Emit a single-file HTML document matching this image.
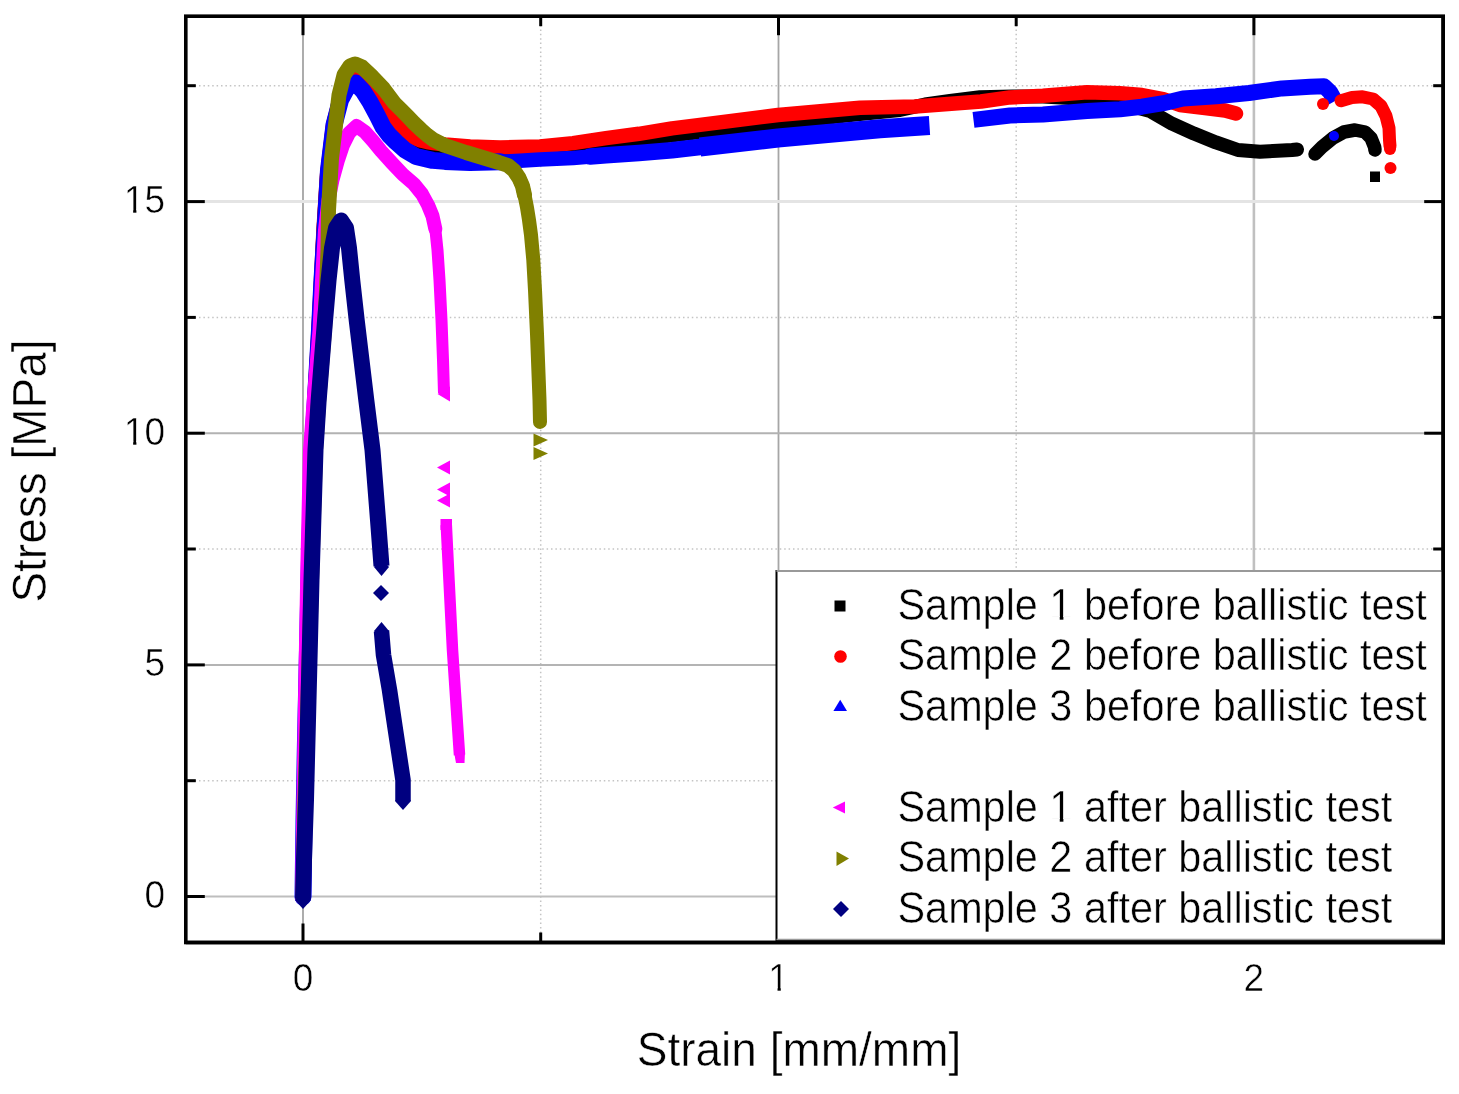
<!DOCTYPE html>
<html><head><meta charset="utf-8"><style>html,body{margin:0;padding:0;background:#fff;overflow:hidden}svg{display:block;filter:blur(0.55px)}</style></head><body>
<svg width="1459" height="1094" viewBox="0 0 1459 1094">
<rect width="1459" height="1094" fill="#fff"/>
<line x1="540.7" y1="16.2" x2="540.7" y2="942.5" stroke="#c4c4c4" stroke-width="1.5" stroke-dasharray="1.5 2.9"/>
<line x1="1016.2" y1="16.2" x2="1016.2" y2="942.5" stroke="#c4c4c4" stroke-width="1.5" stroke-dasharray="1.5 2.9"/>
<line x1="185.8" y1="780.7" x2="1443.2" y2="780.7" stroke="#c4c4c4" stroke-width="1.5" stroke-dasharray="1.5 2.9"/>
<line x1="185.8" y1="549.0" x2="1443.2" y2="549.0" stroke="#c4c4c4" stroke-width="1.5" stroke-dasharray="1.5 2.9"/>
<line x1="185.8" y1="317.4" x2="1443.2" y2="317.4" stroke="#c4c4c4" stroke-width="1.5" stroke-dasharray="1.5 2.9"/>
<line x1="185.8" y1="85.7" x2="1443.2" y2="85.7" stroke="#c4c4c4" stroke-width="1.5" stroke-dasharray="1.5 2.9"/>
<line x1="303.0" y1="16.2" x2="303.0" y2="942.5" stroke="#a4a4a4" stroke-width="1.8"/>
<line x1="778.5" y1="16.2" x2="778.5" y2="942.5" stroke="#a6a6a6" stroke-width="1.8"/>
<line x1="1253.9" y1="16.2" x2="1253.9" y2="942.5" stroke="#c0c0c0" stroke-width="2.6"/>
<line x1="185.8" y1="896.5" x2="1443.2" y2="896.5" stroke="#bebebe" stroke-width="2.2"/>
<line x1="185.8" y1="664.9" x2="1443.2" y2="664.9" stroke="#b4b4b4" stroke-width="2"/>
<line x1="185.8" y1="433.2" x2="1443.2" y2="433.2" stroke="#b2b2b2" stroke-width="2"/>
<line x1="185.8" y1="201.6" x2="1443.2" y2="201.6" stroke="#e4e4e4" stroke-width="3"/>
<polyline points="303.0,897.0 304.0,820.0 305.5,740.0 307.5,650.0 309.0,560.0 312.0,450.0 315.0,390.0 318.5,330.0 321.0,280.0 323.5,230.0 327.0,175.0 333.0,125.0 340.0,98.0 348.0,84.0 356.0,80.0 366.0,88.0 378.0,100.0 390.0,115.0 401.0,130.0 414.0,140.5 427.0,145.5 440.0,148.0 470.0,151.0 500.0,151.0 540.0,151.0 600.0,145.0 650.0,138.0 700.0,132.0 778.0,123.0 860.0,114.0 900.0,110.0 925.0,104.5 950.0,101.0 980.0,97.3 1013.0,96.5 1043.0,96.5 1087.0,99.0 1120.0,103.0 1150.0,111.0 1172.0,123.7 1194.0,133.6 1216.0,142.4 1238.0,150.0 1260.0,151.7 1292.0,150.0 1297.0,149.5" fill="none" stroke="#000000" stroke-width="14" stroke-linejoin="round" stroke-linecap="round"/>
<polyline points="303.0,897.0 304.0,820.0 305.5,740.0 307.5,650.0 309.0,560.0 312.0,450.0 315.0,390.0 318.5,330.0 321.0,280.0 323.5,230.0 327.0,175.0 333.0,125.0 340.0,98.0 348.0,82.0 356.0,77.0 362.0,78.0 370.0,82.0 378.0,93.0 385.6,106.0 394.3,121.0 401.4,128.5 407.8,133.5 414.2,138.0 420.6,140.5 427.0,142.0 433.4,143.0 445.0,144.5 470.0,146.5 500.0,147.5 540.0,146.5 573.0,143.1 606.0,138.2 639.0,133.8 672.0,128.4 700.0,124.9 778.0,115.0 860.0,107.8 915.0,106.5 948.0,104.0 981.0,101.5 1010.0,97.4 1043.0,95.8 1087.0,92.2 1120.0,93.3 1142.0,95.0 1163.0,99.0 1180.0,105.0 1205.0,108.0 1225.0,110.5 1236.0,113.5" fill="none" stroke="#ff0000" stroke-width="14.5" stroke-linejoin="round" stroke-linecap="round"/>
<polyline points="303.0,897.0 304.0,820.0 305.5,740.0 307.5,650.0 309.5,560.0 312.5,450.0 316.0,390.0 319.5,330.0 322.0,280.0 325.0,230.0 328.5,170.0 334.0,125.0 340.5,100.0 347.0,88.0 355.5,83.0 363.0,91.0 370.0,102.0 377.0,115.0 383.0,127.0 389.0,135.0 396.0,142.0 405.0,150.0 416.0,156.5 432.7,160.4 445.0,161.4 470.0,162.5 500.0,161.8" fill="none" stroke="#0000ff" stroke-width="17" stroke-linejoin="round" stroke-linecap="round"/>
<polyline points="470.0,162.5 500.0,161.8 520.0,160.7 540.0,159.6 573.0,158.0 606.0,155.2" fill="none" stroke="#0000ff" stroke-width="14.5" stroke-linejoin="round" stroke-linecap="round"/>
<polyline points="590.0,156.5 606.0,155.2 639.0,153.0 672.0,150.2 700.0,147.0" fill="none" stroke="#0000ff" stroke-width="16.5" stroke-linejoin="round" stroke-linecap="round"/>
<polyline points="700.0,147.0 778.0,138.0 880.0,128.7 929.5,125.5" fill="none" stroke="#0000ff" stroke-width="19" stroke-linejoin="round" stroke-linecap="butt"/>
<polyline points="973.5,119.9 1010.0,115.5 1043.0,114.4 1087.0,111.1 1120.0,109.2 1142.0,106.7 1163.5,103.2 1183.0,98.5 1216.0,96.3 1249.0,93.0 1282.0,88.4 1310.0,86.8 1324.0,86.3 1330.0,92.0 1335.0,101.0" fill="none" stroke="#0000ff" stroke-width="16" stroke-linejoin="round" stroke-linecap="butt"/>
<polyline points="1341.0,100.7 1352.0,97.5 1362.5,96.8 1373.0,99.0 1381.0,106.0 1386.0,116.0 1389.0,128.0 1389.5,140.0 1390.0,146.0" fill="none" stroke="#ff0000" stroke-width="13" stroke-linejoin="round" stroke-linecap="round"/>
<polyline points="1315.0,154.0 1322.0,147.0 1333.0,138.0 1344.0,132.0 1355.0,130.0 1365.0,132.0 1371.0,138.0 1374.6,147.0 1375.0,150.0" fill="none" stroke="#000000" stroke-width="13.5" stroke-linejoin="round" stroke-linecap="round"/>
<polyline points="302.0,897.0 302.5,860.0 303.5,800.0 305.0,700.0 307.5,560.0 310.0,450.0 314.5,390.0 319.5,330.0 322.0,280.0 325.0,230.0 328.5,200.0 332.5,180.0 338.0,160.0 343.0,145.0 349.0,133.0 356.5,126.0 365.0,132.0 373.0,141.0 381.0,150.9 392.0,163.0 402.9,174.5 413.9,184.0 422.0,194.0 428.0,205.0 432.5,216.0 435.3,228.8" fill="none" stroke="#ff00ff" stroke-width="14" stroke-linejoin="round" stroke-linecap="round"/>
<polyline points="432.5,216.0 435.3,228.8 437.5,250.0 439.5,280.0 441.5,320.0 443.0,360.0 444.0,393.0" fill="none" stroke="#ff00ff" stroke-width="12" stroke-linejoin="round" stroke-linecap="butt"/>
<polyline points="446.3,525.0 449.0,580.0 452.5,650.0 456.5,710.0 459.5,755.0" fill="none" stroke="#ff00ff" stroke-width="11.5" stroke-linejoin="round" stroke-linecap="butt"/>
<polyline points="303.0,897.0 305.0,800.0 308.0,700.0 311.5,580.0 315.5,450.0 318.6,401.0 324.5,330.0 326.5,290.0 328.0,250.0 328.5,210.0 331.5,158.5 336.0,121.0 339.0,95.0 344.0,75.0 350.0,66.0 355.0,64.0 362.0,67.0 372.4,76.8 383.4,88.5 394.3,103.0 401.4,110.0 407.8,116.5 414.2,123.2 420.6,129.3 427.0,135.0 433.4,139.8 439.8,143.0 445.0,145.5 452.6,148.0 466.0,152.5 499.0,162.5 508.0,165.5 514.0,170.5 519.0,178.0 522.5,186.0 524.5,195.0" fill="none" stroke="#808000" stroke-width="15" stroke-linejoin="round" stroke-linecap="round"/>
<polyline points="519.0,178.0 522.5,186.0 524.5,195.0 527.0,207.5 529.0,220.0 531.0,235.0 533.3,260.0 535.0,290.0 537.0,334.0 539.5,400.0 540.0,422.0" fill="none" stroke="#808000" stroke-width="14" stroke-linejoin="round" stroke-linecap="round"/>
<polyline points="303.0,899.0 304.0,860.0 306.0,800.0 308.5,700.0 311.5,580.0 315.5,450.0 318.6,401.0 325.0,321.0 328.5,280.5 332.0,248.0 336.0,228.0 341.0,220.5 346.0,228.0 349.0,248.0 352.3,280.5 356.8,321.0 366.4,401.0 372.5,450.0 378.0,520.0 381.5,566.0" fill="none" stroke="#000080" stroke-width="16" stroke-linejoin="round" stroke-linecap="butt"/>
<polyline points="381.5,631.0 383.5,655.0 389.5,690.0 395.0,727.0 400.0,760.0 403.0,780.0 403.0,801.0" fill="none" stroke="#000080" stroke-width="15.5" stroke-linejoin="round" stroke-linecap="butt"/>
<circle cx="1323" cy="104" r="6" fill="#ff0000"/>
<circle cx="1390" cy="149" r="6" fill="#ff0000"/>
<circle cx="1390.5" cy="168" r="6" fill="#ff0000"/>
<rect x="1370" y="171.5" width="10" height="10.5" fill="#000"/>
<circle cx="1334" cy="136" r="5" fill="#0000ff"/>
<polygon points="437.5,394.0 450.0,386.5 450.0,401.5" fill="#ff00ff"/>
<polygon points="437.0,467.6 450.0,460.6 450.0,474.6" fill="#ff00ff"/>
<polygon points="437.0,489.5 450.0,482.5 450.0,496.5" fill="#ff00ff"/>
<polygon points="437.0,500.4 450.0,493.4 450.0,507.4" fill="#ff00ff"/>
<polygon points="533.5,433.5 548.0,440.0 533.5,446.5" fill="#808000"/>
<polygon points="533.5,447.0 548.0,453.5 533.5,460.0" fill="#808000"/>
<polygon points="381.5,559.0 389.0,567.0 381.5,576.0 374.0,567.0" fill="#000080"/>
<polygon points="303.0,891.0 311.0,900.0 303.0,909.0 295.0,900.0" fill="#000080"/>
<polygon points="381.5,622.0 389.0,631.0 381.5,640.0 374.0,631.0" fill="#000080"/>
<polygon points="403.0,792.0 411.0,801.0 403.0,810.0 395.0,801.0" fill="#000080"/>
<polygon points="440.5,519.0 452.0,519.0 452.0,530.0 440.5,530.0" fill="#ff00ff"/>
<polygon points="454.0,752.0 465.0,752.0 464.5,763.0 456.0,763.0" fill="#ff00ff"/>
<polygon points="381.0,585.0 389.0,593.0 381.0,601.0 373.0,593.0" fill="#000080"/>
<rect x="185.8" y="16.2" width="1257.4" height="926.3" fill="none" stroke="#000" stroke-width="3.6"/>
<line x1="303.0" y1="16.2" x2="303.0" y2="35.2" stroke="#000" stroke-width="3"/>
<line x1="303.0" y1="942.5" x2="303.0" y2="923.5" stroke="#000" stroke-width="3"/>
<line x1="778.5" y1="16.2" x2="778.5" y2="35.2" stroke="#000" stroke-width="3"/>
<line x1="778.5" y1="942.5" x2="778.5" y2="923.5" stroke="#000" stroke-width="3"/>
<line x1="1253.9" y1="16.2" x2="1253.9" y2="35.2" stroke="#000" stroke-width="3"/>
<line x1="1253.9" y1="942.5" x2="1253.9" y2="923.5" stroke="#000" stroke-width="3"/>
<line x1="540.7" y1="16.2" x2="540.7" y2="26.2" stroke="#000" stroke-width="3"/>
<line x1="540.7" y1="942.5" x2="540.7" y2="932.5" stroke="#000" stroke-width="3"/>
<line x1="1016.2" y1="16.2" x2="1016.2" y2="26.2" stroke="#000" stroke-width="3"/>
<line x1="1016.2" y1="942.5" x2="1016.2" y2="932.5" stroke="#000" stroke-width="3"/>
<line x1="185.8" y1="896.5" x2="204.8" y2="896.5" stroke="#000" stroke-width="3"/>
<line x1="1443.2" y1="896.5" x2="1424.2" y2="896.5" stroke="#000" stroke-width="3"/>
<line x1="185.8" y1="664.9" x2="204.8" y2="664.9" stroke="#000" stroke-width="3"/>
<line x1="1443.2" y1="664.9" x2="1424.2" y2="664.9" stroke="#000" stroke-width="3"/>
<line x1="185.8" y1="433.2" x2="204.8" y2="433.2" stroke="#000" stroke-width="3"/>
<line x1="1443.2" y1="433.2" x2="1424.2" y2="433.2" stroke="#000" stroke-width="3"/>
<line x1="185.8" y1="201.6" x2="204.8" y2="201.6" stroke="#000" stroke-width="3"/>
<line x1="1443.2" y1="201.6" x2="1424.2" y2="201.6" stroke="#000" stroke-width="3"/>
<line x1="185.8" y1="780.7" x2="195.8" y2="780.7" stroke="#000" stroke-width="3"/>
<line x1="1443.2" y1="780.7" x2="1433.2" y2="780.7" stroke="#000" stroke-width="3"/>
<line x1="185.8" y1="549.0" x2="195.8" y2="549.0" stroke="#000" stroke-width="3"/>
<line x1="1443.2" y1="549.0" x2="1433.2" y2="549.0" stroke="#000" stroke-width="3"/>
<line x1="185.8" y1="317.4" x2="195.8" y2="317.4" stroke="#000" stroke-width="3"/>
<line x1="1443.2" y1="317.4" x2="1433.2" y2="317.4" stroke="#000" stroke-width="3"/>
<line x1="185.8" y1="85.7" x2="195.8" y2="85.7" stroke="#000" stroke-width="3"/>
<line x1="1443.2" y1="85.7" x2="1433.2" y2="85.7" stroke="#000" stroke-width="3"/>
<rect x="776.5" y="571" width="666.7" height="370.0" fill="#fff" stroke="#000" stroke-width="2"/>
<line x1="776.5" y1="571" x2="1443.2" y2="571" stroke="#999" stroke-width="2.2"/>
<line x1="776.5" y1="939.5" x2="1443.2" y2="939.5" stroke="#999" stroke-width="1.5"/>
<line x1="1443.2" y1="16.2" x2="1443.2" y2="944.3" stroke="#000" stroke-width="3.6"/>
<line x1="185.8" y1="942.5" x2="1445.0" y2="942.5" stroke="#000" stroke-width="3.6"/>
<rect x="834.5" y="600.5" width="11" height="11" fill="#000"/>
<circle cx="840.5" cy="656.5" r="6.3" fill="#ff0000"/>
<polygon points="840.2,699.8 847.0,711.0 833.4,711.0" fill="#0000ff"/>
<polygon points="832.8,807.5 845.0,801.5 845.0,813.5" fill="#ff00ff"/>
<polygon points="836.5,851.5 849.0,858.5 836.5,866.0" fill="#808000"/>
<polygon points="841.0,901.0 849.0,909.0 841.0,917.0 833.0,909.0" fill="#000080"/>
<text transform="matrix(1,0,0,1.06,0,-37.20)" x="897.5" y="620" font-family="Liberation Sans, sans-serif" stroke="#fff" stroke-width="0.5" font-size="41.4" fill="#000">Sample 1 before ballistic test</text>
<text transform="matrix(1,0,0,1.06,0,-40.23)" x="897.5" y="670.5" font-family="Liberation Sans, sans-serif" stroke="#fff" stroke-width="0.5" font-size="41.4" fill="#000">Sample 2 before ballistic test</text>
<text transform="matrix(1,0,0,1.06,0,-43.26)" x="897.5" y="721" font-family="Liberation Sans, sans-serif" stroke="#fff" stroke-width="0.5" font-size="41.4" fill="#000">Sample 3 before ballistic test</text>
<text transform="matrix(1,0,0,1.06,0,-49.32)" x="897.5" y="822" font-family="Liberation Sans, sans-serif" stroke="#fff" stroke-width="0.5" font-size="41.4" fill="#000">Sample 1 after ballistic test</text>
<text transform="matrix(1,0,0,1.06,0,-52.35)" x="897.5" y="872.5" font-family="Liberation Sans, sans-serif" stroke="#fff" stroke-width="0.5" font-size="41.4" fill="#000">Sample 2 after ballistic test</text>
<text transform="matrix(1,0,0,1.06,0,-55.38)" x="897.5" y="923" font-family="Liberation Sans, sans-serif" stroke="#fff" stroke-width="0.5" font-size="41.4" fill="#000">Sample 3 after ballistic test</text>
<text transform="matrix(1,0,0,1.06,0,-54.48)" x="165" y="908.0" font-family="Liberation Sans, sans-serif" stroke="#fff" stroke-width="0.5" font-size="37" text-anchor="end" fill="#000">0</text>
<text transform="matrix(1,0,0,1.06,0,-40.58)" x="165" y="676.4" font-family="Liberation Sans, sans-serif" stroke="#fff" stroke-width="0.5" font-size="37" text-anchor="end" fill="#000">5</text>
<text transform="matrix(1,0,0,1.06,0,-26.68)" x="165" y="444.7" font-family="Liberation Sans, sans-serif" stroke="#fff" stroke-width="0.5" font-size="37" text-anchor="end" fill="#000">10</text>
<text transform="matrix(1,0,0,1.06,0,-12.78)" x="165" y="213.1" font-family="Liberation Sans, sans-serif" stroke="#fff" stroke-width="0.5" font-size="37" text-anchor="end" fill="#000">15</text>
<text transform="matrix(1,0,0,1.06,0,-59.46)" x="303.0" y="991" font-family="Liberation Sans, sans-serif" stroke="#fff" stroke-width="0.5" font-size="37" text-anchor="middle" fill="#000">0</text>
<text transform="matrix(1,0,0,1.06,0,-59.46)" x="778.5" y="991" font-family="Liberation Sans, sans-serif" stroke="#fff" stroke-width="0.5" font-size="37" text-anchor="middle" fill="#000">1</text>
<text transform="matrix(1,0,0,1.06,0,-59.46)" x="1253.9" y="991" font-family="Liberation Sans, sans-serif" stroke="#fff" stroke-width="0.5" font-size="37" text-anchor="middle" fill="#000">2</text>
<text transform="matrix(1,0,0,1.06,0,-63.99)" x="799" y="1066.5" font-family="Liberation Sans, sans-serif" stroke="#fff" stroke-width="0.5" font-size="46" text-anchor="middle" fill="#000">Strain [mm/mm]</text>
<text transform="translate(46,0) scale(1.06,1) translate(-46,0) translate(46,471) rotate(-90)" x="0" y="0" font-family="Liberation Sans, sans-serif" stroke="#fff" stroke-width="0.5" font-size="46" text-anchor="middle" fill="#000">Stress [MPa]</text>
<g transform="matrix(1,0,0,1.06,0,-37.20)">
<rect x="1051.68" y="616.51" width="8.06" height="4.49" fill="#fff"/>
<rect x="1063.40" y="616.51" width="7.93" height="4.49" fill="#fff"/>
</g>
<g transform="matrix(1,0,0,1.06,0,-49.32)">
<rect x="1051.68" y="818.51" width="8.06" height="4.49" fill="#fff"/>
<rect x="1063.40" y="818.51" width="7.93" height="4.49" fill="#fff"/>
</g>
<g transform="matrix(1,0,0,1.06,0,-26.68)">
<rect x="125.86" y="441.54" width="7.29" height="4.16" fill="#fff"/>
<rect x="136.41" y="441.54" width="7.20" height="4.16" fill="#fff"/>
</g>
<g transform="matrix(1,0,0,1.06,0,-12.79)">
<rect x="125.86" y="209.94" width="7.29" height="4.16" fill="#fff"/>
<rect x="136.41" y="209.94" width="7.20" height="4.16" fill="#fff"/>
</g>
<g transform="matrix(1,0,0,1.06,0,-59.46)">
<rect x="770.23" y="987.84" width="7.29" height="4.16" fill="#fff"/>
<rect x="780.78" y="987.84" width="7.20" height="4.16" fill="#fff"/>
</g>
</svg>
</body></html>
